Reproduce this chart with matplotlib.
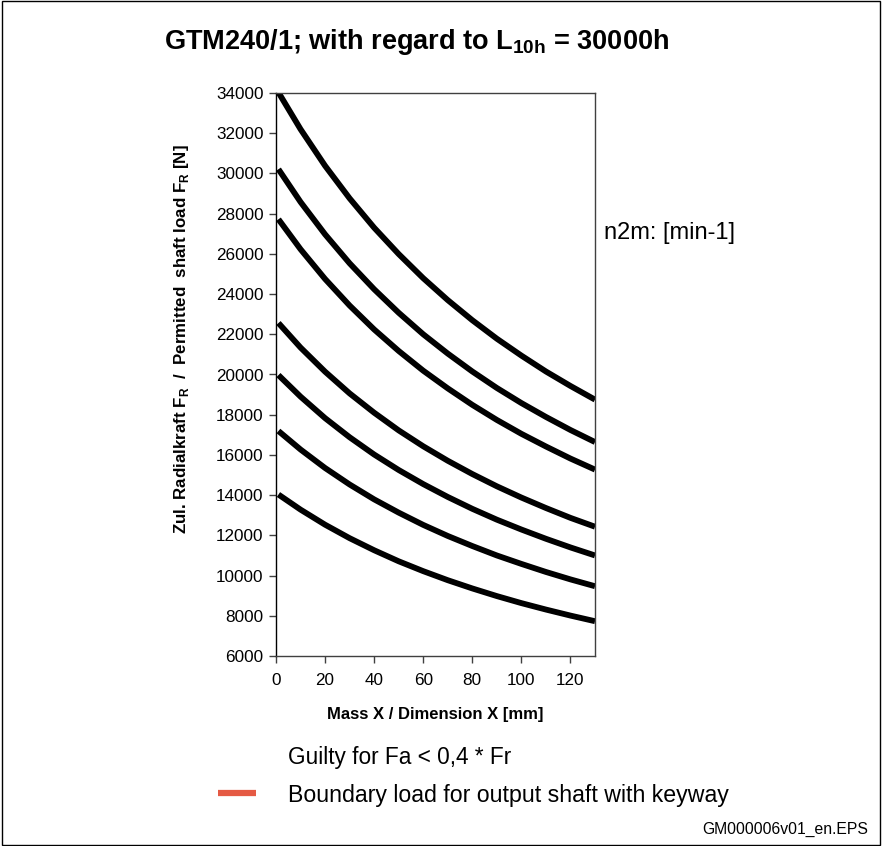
import numpy as np
import matplotlib.pyplot as plt
from matplotlib.patches import Rectangle
from matplotlib.lines import Line2D

plt.rcParams['font.family'] = ['Liberation Sans', 'DejaVu Sans']
plt.rcParams['mathtext.fontset'] = 'custom'
plt.rcParams['mathtext.rm'] = 'Liberation Sans'
plt.rcParams['mathtext.bf'] = 'Liberation Sans:bold'

# mass X [mm]
x = [1, 10, 20, 30, 40, 50, 60, 70, 80, 90, 100, 110, 120, 130]

# permitted radial load F_R [N], one list per output speed
c1 = [34030, 32200, 30380, 28760, 27300, 25990, 24790, 23700, 22700, 21780, 20940, 20150, 19430, 18750]
c2 = [30210, 28580, 26970, 25530, 24240, 23070, 22000, 21040, 20150, 19330, 18580, 17890, 17240, 16640]
c3 = [27720, 26230, 24750, 23430, 22240, 21170, 20190, 19310, 18490, 17740, 17050, 16420, 15820, 15270]
c4 = [22560, 21340, 20140, 19060, 18100, 17220, 16430, 15710, 15050, 14440, 13880, 13360, 12870, 12430]
c5 = [19970, 18900, 17830, 16880, 16020, 15250, 14550, 13910, 13320, 12780, 12290, 11830, 11400, 11000]
c6 = [17190, 16270, 15350, 14530, 13790, 13130, 12520, 11970, 11470, 11000, 10580, 10180, 9810, 9470]
c7 = [14030, 13280, 12530, 11860, 11260, 10710, 10220, 9770, 9360, 8980, 8630, 8310, 8010, 7730]
curves = [c1, c2, c3, c4, c5, c6, c7]

xticks = [0, 20, 40, 60, 80, 100, 120]
yticks = list(range(6000, 34001, 2000))

fig = plt.figure(figsize=(8.83, 8.46), dpi=100)
ax = fig.add_axes([276 / 883, 1 - 656 / 846, 319 / 883, 563 / 846])

for c in curves:
    ax.plot(x, c, color='black', lw=4.2, solid_capstyle='butt')

ax.set_xlim(0, 130)
ax.set_ylim(6000, 34000)
ax.set_xticks(xticks)
ax.set_yticks(yticks)
ax.tick_params(labelsize=12.3, length=5, width=1, color='#404040')
ax.tick_params(axis='x', pad=7)
ax.tick_params(axis='y', pad=4)
for s in ax.spines.values():
    s.set_color('#404040')
    s.set_linewidth(1)
ax.spines['left'].set_color('black')

ax.set_xlabel('Mass X / Dimension X [mm]', fontsize=12, fontweight='bold', labelpad=14)
ax.set_ylabel(r'Zul. Radialkraft F$_\mathbf{R}$  /  Permitted  shaft load F$_\mathbf{R}$ [N]',
              fontsize=12.2, fontweight='bold')
ax.yaxis.set_label_coords(-0.266, 0.562)

fig.text(417 / 883, 1 - 42 / 846, r'GTM240/1; with regard to L$_\mathbf{10h}$ = 30000h',
         fontsize=19.5, fontweight='bold', ha='center', va='center')
fig.text(604 / 883, 1 - 233 / 846, 'n2m: [min-1]', fontsize=17, va='center')
fig.text(288 / 883, 1 - 757 / 846, 'Guilty for Fa < 0,4 * Fr', fontsize=16.3, va='center')
fig.add_artist(Line2D([218 / 883, 256 / 883], [1 - 793 / 846, 1 - 793 / 846],
                      color='#E55A44', lw=4.5, solid_capstyle='butt'))
fig.text(288 / 883, 1 - 795 / 846, 'Boundary load for output shaft with keyway', fontsize=16.7, va='center')
fig.text(868 / 883, 1 - 829 / 846, 'GM000006v01_en.EPS', fontsize=11.3, ha='right', va='center')

fig.add_artist(Rectangle((0.002, 0.001), 0.995, 0.998, transform=fig.transFigure,
                         fill=False, edgecolor='black', lw=1))

fig.savefig('out.png', dpi=100)
